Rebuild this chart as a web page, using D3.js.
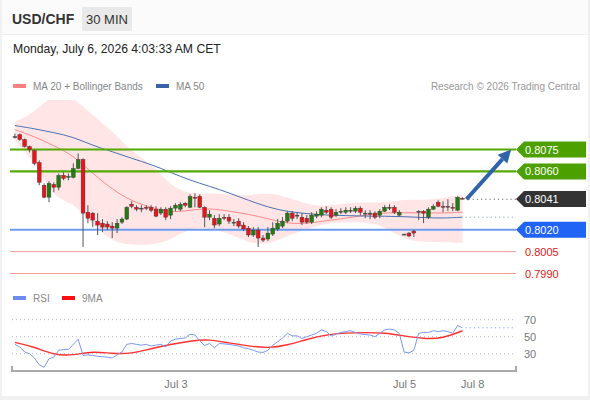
<!DOCTYPE html>
<html>
<head>
<meta charset="utf-8">
<script src="https://cdn.jsdelivr.net/npm/d3@7"></script>
<style>
  body { margin: 0; background: #fff; }
  svg { display: block; font-family: "Liberation Sans", Arial, sans-serif; }
</style>
</head>
<body>
<svg id="chart" width="590" height="400"></svg>
<script>
// candles, 30 min
const open  = [0.80839,0.80852,0.80818,0.80770,0.80743,0.80661,0.80505,0.80423,0.80511,0.80491,0.80573,0.80559,0.80559,0.80620,0.80682,0.80320,0.80314,0.80259,0.80245,0.80239,0.80225,0.80211,0.80252,0.80273,0.80375,0.80354,0.80348,0.80354,0.80354,0.80341,0.80314,0.80341,0.80300,0.80348,0.80341,0.80382,0.80354,0.80423,0.80429,0.80354,0.80286,0.80279,0.80239,0.80286,0.80286,0.80252,0.80259,0.80232,0.80211,0.80164,0.80198,0.80143,0.80136,0.80170,0.80205,0.80225,0.80259,0.80314,0.80300,0.80286,0.80279,0.80252,0.80293,0.80300,0.80334,0.80341,0.80300,0.80327,0.80320,0.80334,0.80327,0.80348,0.80314,0.80314,0.80314,0.80300,0.80327,0.80354,0.80354,0.80300,0.80170,0.80177,0.80191,0.80327,0.80327,0.80286,0.80341,0.80389,0.80361,0.80361,0.80354,0.80334,0.80416];
const high  = [0.80859,0.80859,0.80825,0.80777,0.80750,0.80675,0.80518,0.80532,0.80525,0.80586,0.80593,0.80586,0.80655,0.80723,0.80689,0.80368,0.80320,0.80314,0.80273,0.80259,0.80252,0.80273,0.80286,0.80361,0.80395,0.80368,0.80368,0.80368,0.80368,0.80361,0.80354,0.80354,0.80361,0.80382,0.80389,0.80389,0.80443,0.80450,0.80443,0.80361,0.80334,0.80300,0.80307,0.80307,0.80307,0.80273,0.80279,0.80252,0.80225,0.80218,0.80218,0.80164,0.80218,0.80252,0.80273,0.80286,0.80327,0.80327,0.80320,0.80314,0.80300,0.80320,0.80327,0.80354,0.80361,0.80354,0.80341,0.80348,0.80354,0.80354,0.80361,0.80361,0.80334,0.80334,0.80327,0.80341,0.80368,0.80375,0.80368,0.80334,0.80172,0.80184,0.80198,0.80334,0.80334,0.80354,0.80375,0.80402,0.80395,0.80409,0.80382,0.80429,0.80423];
const low   = [0.80825,0.80811,0.80764,0.80730,0.80641,0.80505,0.80416,0.80389,0.80457,0.80470,0.80539,0.80539,0.80552,0.80614,0.80082,0.80245,0.80218,0.80164,0.80184,0.80198,0.80143,0.80177,0.80239,0.80266,0.80348,0.80327,0.80320,0.80334,0.80320,0.80286,0.80300,0.80266,0.80273,0.80327,0.80327,0.80354,0.80348,0.80354,0.80348,0.80218,0.80266,0.80211,0.80225,0.80266,0.80239,0.80225,0.80211,0.80191,0.80150,0.80150,0.80082,0.80116,0.80123,0.80157,0.80191,0.80211,0.80245,0.80259,0.80273,0.80232,0.80239,0.80239,0.80279,0.80286,0.80307,0.80273,0.80286,0.80307,0.80307,0.80314,0.80314,0.80300,0.80279,0.80273,0.80273,0.80279,0.80320,0.80334,0.80307,0.80293,0.80168,0.80150,0.80150,0.80266,0.80245,0.80273,0.80334,0.80354,0.80320,0.80327,0.80327,0.80327,0.80409];
const close = [0.80839,0.80818,0.80770,0.80750,0.80655,0.80525,0.80423,0.80518,0.80491,0.80573,0.80552,0.80566,0.80620,0.80682,0.80314,0.80279,0.80266,0.80232,0.80218,0.80218,0.80211,0.80245,0.80273,0.80354,0.80361,0.80341,0.80348,0.80350,0.80334,0.80293,0.80341,0.80286,0.80348,0.80368,0.80375,0.80368,0.80429,0.80416,0.80354,0.80286,0.80307,0.80232,0.80279,0.80279,0.80259,0.80252,0.80225,0.80205,0.80164,0.80198,0.80143,0.80129,0.80177,0.80211,0.80245,0.80259,0.80314,0.80279,0.80300,0.80252,0.80252,0.80300,0.80307,0.80341,0.80320,0.80286,0.80320,0.80327,0.80334,0.80334,0.80348,0.80320,0.80314,0.80314,0.80286,0.80327,0.80354,0.80354,0.80320,0.80320,0.80170,0.80157,0.80177,0.80327,0.80314,0.80341,0.80361,0.80361,0.80354,0.80361,0.80348,0.80423,0.80409];

// indicator readings, every 4th candle
const maIdx   = [0,4,8,12,16,20,24,28,32,36,40,44,48,52,56,60,64,68,72,76,80,84,88,92];
const ma20    = [0.80886,0.80839,0.80777,0.80709,0.80586,0.80477,0.80395,0.80354,0.80317,0.80334,0.80348,0.80327,0.80307,0.80276,0.80242,0.80242,0.80262,0.80279,0.80300,0.80317,0.80317,0.80314,0.80314,0.80320];
const ma50    = [0.80914,0.80893,0.80866,0.80836,0.80777,0.80736,0.80689,0.80648,0.80593,0.80539,0.80498,0.80453,0.80402,0.80354,0.80324,0.80310,0.80300,0.80297,0.80293,0.80293,0.80290,0.80283,0.80279,0.80286];
const bbUpper = [0.80941,0.81002,0.81139,0.81111,0.80982,0.80880,0.80730,0.80655,0.80498,0.80443,0.80450,0.80443,0.80429,0.80457,0.80423,0.80375,0.80361,0.80382,0.80389,0.80382,0.80409,0.80402,0.80416,0.80443];
const bbLower = [0.80811,0.80675,0.80409,0.80389,0.80232,0.80116,0.80095,0.80095,0.80129,0.80211,0.80211,0.80177,0.80109,0.80095,0.80157,0.80204,0.80245,0.80252,0.80252,0.80225,0.80129,0.80116,0.80116,0.80109];
const rsiMa9  = [43.4,38,28.5,28,33,30,30,36,41,45,47,42.5,39,36.5,40,47,52.5,54.5,55,54.5,51,47.5,48,57];

const rsi = [41,38,32,30,25,17,14,24,26,34,35,35,41,47,28,28.5,28,27,26.5,26,25,28.5,32,41,42,41,40,41,39,40,41,38,45,47,48,48.5,53,52,45,39.5,42,37,42,41.5,41,40,39,37,36,34,32,31.5,34,40,44,48.5,54,51,51,48,50,52,54,58,56,51,53,55,56,57,55,53,52.5,52,50,54,58,59,58,54,32,31,34,54,55,55,57,56,57,56,54,63,60.5];

// levels and labels
const levels     = [0.8075, 0.8060, 0.8041, 0.8020, 0.8005, 0.7990];
const levelKinds = ["res", "res", "last", "sup", "sup2", "sup2"];
const target = 0.8075;
const rsiTicks = [70, 50, 30];
const tickIdx = [33, 80, 94];
const tickLabels = ["Jul 3", "Jul 5", "Jul 8"];

const svg = d3.select("#chart");
const W = 590, H = 400;
const plotLeft = 12, plotRight = 516;

const x = d3.scaleLinear().domain([-0.6, 103]).range([plotLeft, plotRight]);
const y = d3.scaleLinear().domain([0.7990, 0.8075]).range([273.5, 149.5]);
const yr = d3.scaleLinear().domain([30, 70]).range([353.7, 319.7]);

// frame
svg.append("rect").attr("width", W).attr("height", H).attr("fill", "#f1f1f1");
svg.append("rect").attr("x", 2).attr("y", 0).attr("width", W - 4).attr("height", H - 4).attr("fill", "#fff");
svg.append("rect").attr("x", 2).attr("y", 0).attr("width", W - 4).attr("height", 34).attr("fill", "#fbfbfb");
svg.append("line").attr("x1", 2).attr("x2", W - 2).attr("y1", 34.5).attr("y2", 34.5).attr("stroke", "#eee");

// header
svg.append("text").attr("x", 12).attr("y", 24).attr("font-size", 14).attr("font-weight", "bold")
  .attr("fill", "#333").text("USD/CHF");
svg.append("rect").attr("x", 82).attr("y", 7).attr("width", 50).attr("height", 24).attr("fill", "#e9e9e9");
svg.append("text").attr("x", 107).attr("y", 24).attr("text-anchor", "middle").attr("font-size", 13)
  .attr("fill", "#333").text("30 MIN");
svg.append("text").attr("x", 13).attr("y", 53).attr("font-size", 12.2).attr("fill", "#222")
  .text("Monday, July 6, 2026 4:03:33 AM CET");

// legend
const legend = [["MA 20 + Bollinger Bands", "#ff8080", 13], ["MA 50", "#3a62a8", 156]];
legend.forEach(([t, c, lx]) => {
  svg.append("rect").attr("x", lx).attr("y", 84).attr("width", 13).attr("height", 4).attr("fill", c);
  svg.append("text").attr("x", lx + 20).attr("y", 90).attr("font-size", 10).attr("fill", "#888").text(t);
});
svg.append("text").attr("x", 580).attr("y", 90).attr("text-anchor", "end").attr("font-size", 10)
  .attr("fill", "#999").text("Research \u00a9 2026 Trading Central");

// price panel
svg.append("clipPath").attr("id", "pc").append("rect")
  .attr("x", plotLeft).attr("y", 100).attr("width", plotRight - plotLeft).attr("height", 185);
const pp = svg.append("g").attr("clip-path", "url(#pc)");

const bandData = maIdx.map((d, i) => ({ i: d, u: bbUpper[i], l: bbLower[i] }));
pp.append("path").datum(bandData)
  .attr("fill", "#ffe0e0").attr("opacity", 0.85)
  .attr("d", d3.area().curve(d3.curveBasis).x(d => x(d.i)).y0(d => y(d.l)).y1(d => y(d.u)));

const lineOf = arr => d3.line().curve(d3.curveBasis).x((d, i) => x(maIdx[i])).y(d => y(d))(arr);
pp.append("path").attr("d", lineOf(ma20)).attr("fill", "none").attr("stroke", "#ff8a8a").attr("stroke-width", 1);
pp.append("path").attr("d", lineOf(ma50)).attr("fill", "none").attr("stroke", "#4a72b5").attr("stroke-width", 1);

// horizontal levels
const kindStyle = {
  res:  { line: "#55aa00", w: 2.2, box: "#4ca000", text: "#fff" },
  last: { line: null, w: 0, box: "#333", text: "#fff" },
  sup:  { line: "#6d9cf0", w: 2.2, box: "#1f64f5", text: "#fff" },
  sup2: { line: "#f29a9a", w: 1, box: null, text: "#e0201a" }
};
levels.forEach((lv, k) => {
  const s = kindStyle[levelKinds[k]];
  const ly = y(lv);
  if (s.line) {
    svg.append("line").attr("x1", 10).attr("x2", plotRight).attr("y1", ly).attr("y2", ly)
      .attr("stroke", s.line).attr("stroke-width", s.w);
  }
  if (s.box) {
    const x0 = plotRight, x1 = 586, h = 8;
    svg.append("path")
      .attr("d", `M${x0},${ly}L${x0 + 8},${ly - h}L${x1},${ly - h}L${x1},${ly + h}L${x0 + 8},${ly + h}Z`)
      .attr("fill", s.box);
  }
  svg.append("text").attr("x", 525).attr("y", ly + 4).attr("font-size", 11).attr("fill", s.text)
    .text(lv.toFixed(4));
});

// dotted extensions for last price and MA 50
const last = close.length - 1;
svg.append("line").attr("x1", x(last) + 6).attr("x2", plotRight).attr("y1", y(close[last])).attr("y2", y(close[last]))
  .attr("stroke", "#666").attr("stroke-dasharray", "1.2,3");
svg.append("line").attr("x1", x(last) + 3).attr("x2", plotRight)
  .attr("y1", y(ma50[ma50.length - 1])).attr("y2", y(ma50[ma50.length - 1]))
  .attr("stroke", "#8aa0c8").attr("stroke-dasharray", "1.2,3");

// candles
const cw = 3.8;
const candles = svg.append("g");
close.forEach((c, i) => {
  const o = open[i];
  const col = c > o ? "#217a12" : (c < o ? "#e8141a" : "#444");
  const cx = x(i);
  candles.append("line").attr("x1", cx).attr("x2", cx).attr("y1", y(high[i])).attr("y2", y(low[i]))
    .attr("stroke", "#555").attr("stroke-width", 1);
  const top = y(Math.max(o, c)), bot = y(Math.min(o, c));
  candles.append("rect").attr("x", cx - cw / 2).attr("y", top).attr("width", cw)
    .attr("height", Math.max(1, bot - top)).attr("fill", col)
    .attr("stroke", c === o ? "#444" : "#3a3a3a").attr("stroke-width", 0.4);
});

// target arrow
const ax0 = x(last) + 4, ay0 = y(close[last]);
const ax1 = x(102), ay1 = y(target);
const ang = Math.atan2(ay1 - ay0, ax1 - ax0);
const hl = 13, hw = 6.5;
const bx = ax1 - hl * Math.cos(ang), by = ay1 - hl * Math.sin(ang);
svg.append("line").attr("x1", ax0).attr("y1", ay0).attr("x2", bx).attr("y2", by)
  .attr("stroke", "#2f64ad").attr("stroke-width", 4);
svg.append("path")
  .attr("d", `M${ax1},${ay1}L${bx + hw * Math.sin(ang)},${by - hw * Math.cos(ang)}L${bx - hw * Math.sin(ang)},${by + hw * Math.cos(ang)}Z`)
  .attr("fill", "#2f64ad");

// RSI panel
const rl = [["RSI", "#6b8cf0", 13], ["9MA", "#ff1010", 62]];
rl.forEach(([t, c, lx]) => {
  svg.append("rect").attr("x", lx).attr("y", 296).attr("width", 13).attr("height", 4).attr("fill", c);
  svg.append("text").attr("x", lx + 20).attr("y", 302).attr("font-size", 10).attr("fill", "#888").text(t);
});

rsiTicks.forEach(t => {
  svg.append("line").attr("x1", plotLeft).attr("x2", plotRight).attr("y1", yr(t)).attr("y2", yr(t))
    .attr("stroke", "#bbb").attr("stroke-dasharray", "1,3");
  svg.append("text").attr("x", 524).attr("y", yr(t) + 4).attr("font-size", 11).attr("fill", "#777").text(t);
});

svg.append("path").datum(rsiMa9)
  .attr("d", d3.line().curve(d3.curveBasis).x((d, i) => x(maIdx[i])).y(d => yr(d)))
  .attr("fill", "none").attr("stroke", "#ff3030").attr("stroke-width", 1.4);
svg.append("path").datum(rsi)
  .attr("d", d3.line().x((d, i) => x(i)).y(d => yr(d)))
  .attr("fill", "none").attr("stroke", "#7a98f0").attr("stroke-width", 1);
svg.append("line").attr("x1", x(last) + 3).attr("x2", plotRight).attr("y1", yr(rsi[last])).attr("y2", yr(rsi[last]))
  .attr("stroke", "#8fa8f0").attr("stroke-dasharray", "1.2,3");

// time axis
const xAxis = d3.axisBottom(x).tickValues(tickIdx).tickFormat((d, i) => tickLabels[i]).tickSize(0).tickPadding(9);
const ag = svg.append("g").attr("transform", "translate(0,371)").call(xAxis);
ag.select(".domain").attr("stroke", "#aaa").attr("stroke-width", 2)
  .attr("d", `M${plotLeft},-5V0H${plotRight}V-5`);
ag.selectAll("text").attr("font-size", 11).attr("fill", "#777")
  .attr("font-family", "\"Liberation Sans\", Arial, sans-serif");
</script>
</body>
</html>
